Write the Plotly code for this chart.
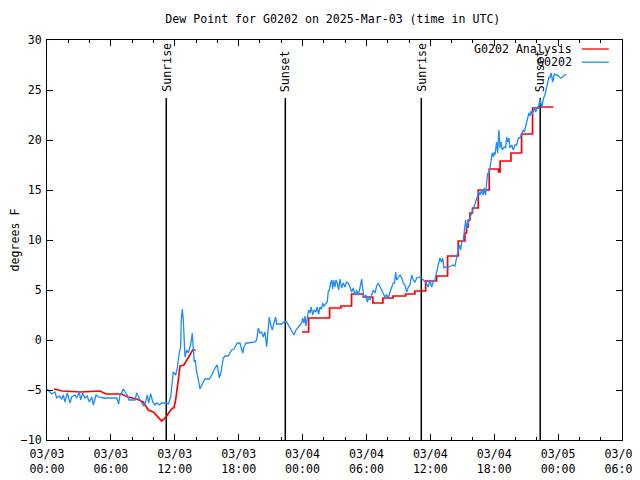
import pandas as pd
import plotly.graph_objects as go

START = pd.Timestamp("2025-03-03 00:00")

# G0202 observations: hours since 2025-03-03 00:00 UTC, dew point (F)
blue_hours = [
    0.00, 0.28, 0.44, 0.75, 0.91, 1.15, 1.38, 1.53, 1.69, 1.91, 2.16, 2.32, 2.63, 2.79, 3.03, 3.16,
    3.35, 3.57, 3.78, 3.97, 4.20, 4.35, 4.60, 4.82, 5.14, 5.35, 6.54, 6.73, 6.85, 7.01, 7.16, 7.35,
    7.54, 7.70, 8.26, 8.42, 8.57, 8.73, 8.89, 9.11, 9.30, 9.42, 9.55, 9.74, 9.93, 10.14, 10.30, 10.55,
    10.77, 11.24, 11.39, 11.62, 11.71, 11.80, 11.86, 12.09, 12.24, 12.42, 12.55, 12.61, 12.71, 12.80,
    12.86, 12.96, 13.12, 13.27, 13.43, 13.52, 13.64, 13.74, 13.83, 13.93, 14.02, 14.18, 14.37, 14.53,
    14.84, 15.24, 15.47, 15.78, 15.99, 16.18, 16.34, 16.56, 16.71, 17.02, 17.34, 17.56, 17.87, 18.12,
    18.28, 18.38, 18.50, 18.69, 18.81, 19.22, 19.53, 19.69, 19.84, 20.00, 20.16, 20.31, 20.47, 20.63,
    20.69, 20.87, 21.01, 21.16, 21.32, 21.48, 21.57, 22.04, 22.25, 22.51, 22.56, 22.82, 22.98, 23.19,
    23.38, 23.60, 23.92, 24.01, 24.13, 24.23, 24.32, 24.44, 24.57, 24.70, 24.82, 24.95, 25.07, 25.26,
    25.38, 25.51, 25.64, 25.79, 25.89, 26.01, 26.20, 26.32, 26.41, 26.51, 26.64, 26.73, 26.83, 26.92,
    27.04, 27.14, 27.26, 27.39, 27.51, 27.67, 27.82, 27.98, 28.14, 28.29, 28.45, 28.61, 28.76, 28.92,
    29.08, 29.23, 29.39, 29.55, 29.64, 29.77, 29.95, 30.08, 30.21, 30.33, 30.49, 30.64, 30.80, 30.96,
    31.11, 31.27, 31.43, 31.58, 31.74, 31.90, 32.05, 32.21, 32.37, 32.52, 32.65, 32.74, 32.84, 32.99,
    33.15, 33.31, 33.46, 33.62, 33.78, 33.93, 34.09, 34.25, 34.40, 34.56, 34.72, 35.02, 35.33, 35.56,
    35.80, 35.96, 36.12, 36.27, 36.43, 36.59, 36.74, 36.90, 37.06, 37.16, 37.28, 37.44, 37.68, 37.91,
    38.15, 38.31, 38.47, 38.62, 38.72, 38.85, 38.94, 39.09, 39.18, 39.32, 39.41, 39.56, 39.72, 39.88,
    39.97, 40.10, 40.26, 40.41, 40.56, 40.66, 40.82, 40.97, 41.06, 41.19, 41.29, 41.38, 41.50, 41.60,
    41.69, 41.81, 41.91, 42.00, 42.07, 42.23, 42.32, 42.44, 42.54, 42.63, 42.75, 42.94, 43.07, 43.17,
    43.26, 43.38, 43.48, 43.64, 43.79, 43.95, 44.11, 44.26, 44.42, 44.58, 44.73, 44.82, 44.95, 45.05,
    45.14, 45.26, 45.36, 45.45, 45.57, 45.67, 45.76, 45.89, 46.01, 46.13, 46.23, 46.32, 46.45, 46.55,
    46.64, 46.76, 46.92, 47.02, 47.07, 47.14, 47.23, 47.33, 47.42, 47.48, 47.54, 47.64, 47.77, 47.92,
    48.11, 48.26, 48.42, 48.64, 48.74,
]
blue_dewpt = [
    -4.9, -5.2, -5.4, -5.2, -5.8, -5.6, -5.9, -5.5, -6.2, -5.3, -6.3, -5.7, -5.5, -5.8, -5.2, -6.0,
    -5.3, -5.8, -5.6, -6.2, -5.7, -6.5, -5.5, -5.7, -5.8, -5.8, -5.8, -6.4, -5.5, -5.3, -4.9, -5.2,
    -5.5, -6.0, -6.0, -5.3, -5.7, -6.0, -6.3, -6.6, -6.0, -5.5, -6.3, -5.4, -6.2, -6.5, -6.3, -6.5,
    -6.3, -6.3, -6.4, -5.7, -4.7, -3.3, -3.2, -3.5, -2.8, -1.3, -0.7, 2.0, 3.1, 2.0,
    -0.3, -1.7, -1.0, -1.3, -0.7, -0.3, 0.7, -1.0, -2.2, -2.0, -3.0, -3.8, -4.9, -4.5,
    -3.9, -3.9, -3.5, -2.8, -2.5, -3.8, -3.2, -1.8, -1.6, -1.6, -1.0, -0.9, -0.3, -0.3,
    -1.0, -1.3, -0.7, -0.3, -0.3, -0.2, -0.2, 0.0, 1.2, 0.7, 0.8, 0.3, 0.8, -0.7,
    0.3, 2.3, 1.5, 1.0, 1.7, 2.3, 1.6, 1.6, 1.8, 1.8, 1.7, 1.2, 0.8, 0.5,
    1.0, 1.3, 1.7, 2.2, 1.7, 2.4, 1.4, 2.2, 3.0, 2.7, 3.3, 2.5, 3.0, 2.8,
    3.3, 2.6, 3.3, 3.1, 3.7, 3.4, 3.7, 3.8, 4.8, 5.0, 5.7, 6.0, 5.1, 6.0,
    5.3, 6.0, 5.7, 5.0, 6.1, 5.2, 5.7, 5.3, 5.8, 5.7, 5.3, 4.8, 5.2, 4.5,
    5.0, 4.5, 5.2, 6.1, 5.2, 4.2, 4.5, 3.8, 4.3, 4.0, 4.5, 5.0, 4.7, 5.4,
    5.7, 5.3, 5.0, 4.7, 4.3, 4.5, 4.2, 4.8, 5.2, 5.7, 5.7, 6.8, 6.0, 6.3,
    6.5, 6.2, 5.7, 5.5, 4.8, 5.3, 5.5, 6.5, 6.0, 5.8, 6.2, 6.3, 6.0, 5.8,
    5.3, 6.0, 5.3, 5.8, 6.0, 7.0, 7.5, 8.2, 7.8, 8.2, 7.2, 7.3, 7.3, 7.4,
    7.5, 7.4, 8.2, 8.8, 9.5, 9.0, 9.8, 10.0, 11.0, 12.0, 11.2, 11.7, 12.3, 12.7,
    13.0, 13.3, 13.8, 14.2, 14.8, 14.5, 15.0, 14.5, 15.2, 14.5, 15.5, 16.7, 16.5, 17.3,
    18.3, 18.7, 18.3, 18.8, 18.5, 19.8, 18.7, 21.0, 19.2, 19.8, 19.0, 19.3, 19.2, 20.3,
    19.8, 20.2, 19.2, 19.5, 19.0, 19.5, 19.5, 20.2, 20.2, 20.6, 21.0, 20.8, 21.3, 21.7,
    22.2, 22.7, 22.4, 22.9, 22.6, 23.1, 23.2, 22.8, 23.2, 23.2, 23.8, 24.1, 23.2, 23.8,
    24.2, 24.5, 25.3, 25.5, 26.0, 26.3, 26.2, 26.7, 26.3, 25.8, 26.0, 26.6, 26.5, 26.5,
    26.3, 26.2, 26.3, 26.5, 26.6,
]

# G0202 Analysis, first day (piecewise linear)
red1_hours = [0.66, 1.44, 3.16, 4.20, 4.98, 5.54, 7.01, 7.58, 8.42, 9.04, 9.51, 9.98, 10.45,
              10.77, 10.99, 11.24, 11.48, 11.80, 11.92, 12.08, 12.33, 12.49, 12.86, 13.68, 13.96]
red1_dewpt = [-4.9, -5.1, -5.2, -5.1, -5.1, -5.4, -5.4, -5.7, -5.9, -6.2, -7.0, -7.2, -7.7,
              -8.1, -7.9, -7.6, -7.2, -6.8, -6.8, -6.0, -4.0, -2.6, -2.5, -1.0, -1.0]

# G0202 Analysis, second day (stepped, value holds until next time)
red2_hours = [23.94, 24.57, 26.54, 27.60, 28.60, 29.70, 30.60, 31.55, 32.50, 33.68, 34.55, 35.56,
              36.59, 37.62, 38.62, 39.25, 39.40, 39.56, 39.72, 39.96, 40.50, 41.53, 42.40, 42.55,
              43.57, 44.57, 45.60, 46.10, 47.55]
red2_dewpt = [0.8, 2.2, 3.2, 3.4, 4.6, 4.3, 3.7, 4.2, 4.4, 4.6, 4.9, 5.9,
              6.4, 8.4, 9.9, 10.7, 11.3, 12.0, 12.7, 13.2, 15.0, 17.1, 16.8, 17.9,
              18.7, 20.6, 23.2, 23.3, 23.3]

sun_hours = [11.20, 22.38, 35.15, 46.32]
sun_labels = ["Sunrise", "Sunset", "Sunrise", "Sunset"]

tick_hours = [0, 6, 12, 18, 24, 30, 36, 42, 48, 54]
tick_labels = ["03/03<br>00:00", "03/03<br>06:00", "03/03<br>12:00", "03/03<br>18:00",
               "03/04<br>00:00", "03/04<br>06:00", "03/04<br>12:00", "03/04<br>18:00",
               "03/05<br>00:00", "03/05<br>06:00"]


def to_time(hours):
    return [START + pd.Timedelta(hours=h) for h in hours]


RED = "#ff0000"
BLUE = "#1a8cff"
FONT = dict(family="DejaVu Sans Mono", size=11.6, color="black")

fig = go.Figure()
fig.add_trace(go.Scatter(x=to_time(red1_hours), y=red1_dewpt, mode="lines",
                         line=dict(color=RED, width=1.7), showlegend=False))
fig.add_trace(go.Scatter(x=to_time(red2_hours), y=red2_dewpt, mode="lines",
                         line=dict(color=RED, width=1.7, shape="hv"), showlegend=False))
fig.add_trace(go.Scatter(x=to_time(blue_hours), y=blue_dewpt, mode="lines",
                         line=dict(color=BLUE, width=1.3), showlegend=False))

for t, lab in zip(to_time(sun_hours), sun_labels):
    fig.add_shape(type="line", x0=t, x1=t, y0=-10, y1=24.2, xref="x", yref="y",
                  line=dict(color="black", width=1.5), layer="below")
    fig.add_annotation(x=t, y=24.6, xref="x", yref="y", text=lab, textangle=-90,
                       showarrow=False, xanchor="center", yanchor="bottom", font=FONT)

# legend (gnuplot style: text then sample line on the right)
leg = [("G0202 Analysis", RED, 0.9775), ("G0202", BLUE, 0.9445)]
for name, col, yy in leg:
    fig.add_annotation(x=0.9165, y=yy, xref="paper", yref="paper", text=name,
                       showarrow=False, xanchor="right", yanchor="middle", font=FONT)
    fig.add_shape(type="line", x0=0.930, x1=0.977, y0=yy, y1=yy, xref="paper",
                  yref="paper", line=dict(color=col, width=1.3))

fig.update_layout(
    width=632, height=472,
    margin=dict(l=39, r=18, t=32, b=40, autoexpand=False),
    paper_bgcolor="white", plot_bgcolor="white",
    font=FONT,
    showlegend=False,
    title=dict(text="Dew Point for G0202 on 2025-Mar-03 (time in UTC)", x=0.514, xanchor="center",
               y=1 - 11 / 472, yanchor="middle", yref="container", font=FONT),
)
fig.update_xaxes(
    range=[START, START + pd.Timedelta(hours=54)], automargin=False,
    tickmode="array", tickvals=to_time(tick_hours), ticktext=tick_labels,
    showline=True, linecolor="black", linewidth=1, mirror="allticks",
    ticks="inside", ticklen=6, tickcolor="black", showgrid=False, zeroline=False,
    minor=dict(ticks="inside", ticklen=3, dtick=2 * 3600 * 1000, tickcolor="black", showgrid=False),
    tickfont=FONT, ticklabelstandoff=3, ticklabeloverflow="allow",
)
fig.update_yaxes(
    range=[-10, 30], dtick=5, tick0=0, automargin=False,
    showline=True, linecolor="black", linewidth=1, mirror="allticks",
    ticks="inside", ticklen=6, tickcolor="black", showgrid=False, zeroline=False,
    tickfont=FONT, ticklabelstandoff=2,
    title=dict(text="degrees F", font=FONT, standoff=10),
)

fig.write_html("out.html")
